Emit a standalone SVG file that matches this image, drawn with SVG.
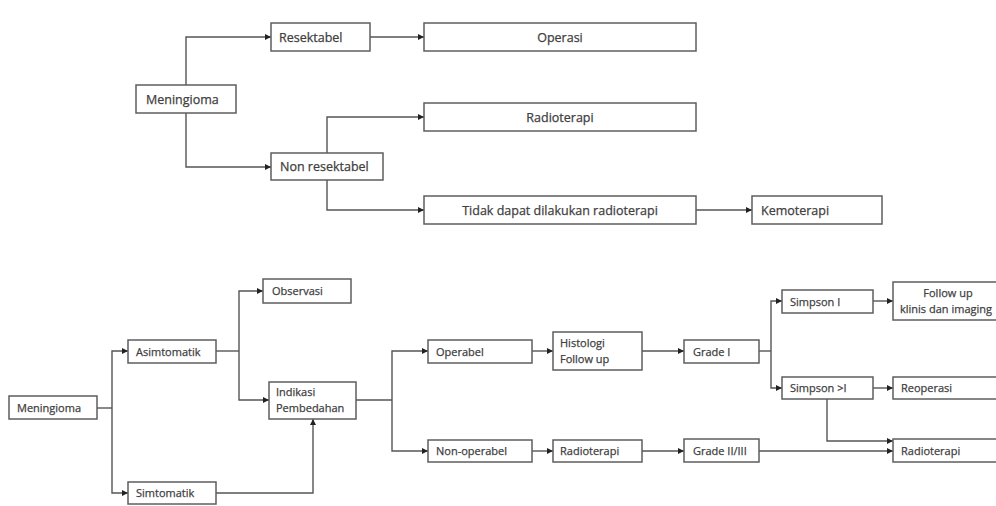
<svg xmlns="http://www.w3.org/2000/svg" width="996" height="506" viewBox="0 0 996 506">
<defs>
<style>
.box{fill:#fff;stroke:#5e5e5e;stroke-width:1.5}
.t{font-family:"Open Sans","Liberation Sans",sans-serif;fill:#404040;stroke:#404040;stroke-width:0.25;font-size:12.5px}
.s{font-family:"Open Sans","Liberation Sans",sans-serif;fill:#404040;stroke:#404040;stroke-width:0.25;font-size:11px}
.c{text-anchor:middle}
.ln{fill:none;stroke:#555;stroke-width:1.4}
</style>
<marker id="ar" viewBox="0 0 10 10" refX="10" refY="5" markerWidth="7" markerHeight="6" markerUnits="userSpaceOnUse" orient="auto">
<path d="M0,0 L10,5 L0,10 z" fill="#222"/>
</marker>
</defs>
<rect width="996" height="506" fill="#fff"/>
<g id="connectors">
<path class="ln" marker-end="url(#ar)" d="M186,85 V37 H271"/>
<path class="ln" marker-end="url(#ar)" d="M186,113 V167 H271"/>
<path class="ln" marker-end="url(#ar)" d="M370,37 H424"/>
<path class="ln" marker-end="url(#ar)" d="M327,153 V117 H424"/>
<path class="ln" marker-end="url(#ar)" d="M327,180 V210 H424"/>
<path class="ln" marker-end="url(#ar)" d="M696,210 H752"/>
<path class="ln" d="M97,408 H112"/>
<path class="ln" marker-end="url(#ar)" d="M112,408 V351 H128"/>
<path class="ln" marker-end="url(#ar)" d="M112,408 V493 H128"/>
<path class="ln" d="M216,351 H239"/>
<path class="ln" marker-end="url(#ar)" d="M239,351 V291 H263"/>
<path class="ln" marker-end="url(#ar)" d="M239,351 V400 H269"/>
<path class="ln" marker-end="url(#ar)" d="M216,493 H313 V419"/>
<path class="ln" d="M356,400 H392"/>
<path class="ln" marker-end="url(#ar)" d="M392,400 V351 H428"/>
<path class="ln" marker-end="url(#ar)" d="M392,400 V451 H428"/>
<path class="ln" marker-end="url(#ar)" d="M532,351 H553"/>
<path class="ln" marker-end="url(#ar)" d="M642,351 H684"/>
<path class="ln" marker-end="url(#ar)" d="M532,451 H553"/>
<path class="ln" marker-end="url(#ar)" d="M642,451 H684"/>
<path class="ln" d="M759,351 H771"/>
<path class="ln" marker-end="url(#ar)" d="M771,351 V301 H782"/>
<path class="ln" marker-end="url(#ar)" d="M771,351 V388 H782"/>
<path class="ln" marker-end="url(#ar)" d="M873,301 H893"/>
<path class="ln" marker-end="url(#ar)" d="M873,388 H893"/>
<path class="ln" marker-end="url(#ar)" d="M827,399 V441 H893"/>
<path class="ln" marker-end="url(#ar)" d="M759,451 H893"/>
</g>
<g id="meningioma1"><rect class="box" x="136" y="85" width="100" height="28"/><text class="t" x="146" y="103.5">Meningioma</text></g>
<g id="resektabel"><rect class="box" x="271" y="23" width="99" height="28"/><text class="t" x="279" y="41.5">Resektabel</text></g>
<g id="operasi"><rect class="box" x="424" y="23" width="272" height="28"/><text class="t c" x="560" y="41.5">Operasi</text></g>
<g id="nonresektabel"><rect class="box" x="271" y="153" width="112" height="27"/><text class="t" x="280" y="171">Non resektabel</text></g>
<g id="radioterapi1"><rect class="box" x="424" y="103" width="272" height="28"/><text class="t c" x="560" y="121.5">Radioterapi</text></g>
<g id="tidakdapat"><rect class="box" x="424" y="196" width="272" height="28"/><text class="t c" x="560" y="214.5">Tidak dapat dilakukan radioterapi</text></g>
<g id="kemoterapi"><rect class="box" x="752" y="196" width="130" height="28"/><text class="t" x="761" y="214.5">Kemoterapi</text></g>
<g id="meningioma2"><rect class="box" x="9" y="396" width="88" height="23"/><text class="s" x="17" y="411.5">Meningioma</text></g>
<g id="asimtomatik"><rect class="box" x="128" y="340" width="88" height="23"/><text class="s" x="136" y="355.5">Asimtomatik</text></g>
<g id="simtomatik"><rect class="box" x="128" y="482" width="88" height="22"/><text class="s" x="136" y="497">Simtomatik</text></g>
<g id="observasi"><rect class="box" x="263" y="279" width="88" height="24"/><text class="s" x="272" y="295">Observasi</text></g>
<g id="indikasi"><rect class="box" x="269" y="382" width="87" height="37"/><text class="s" x="276" y="396">Indikasi</text><text class="s" x="276" y="411.5">Pembedahan</text></g>
<g id="operabel"><rect class="box" x="428" y="340" width="104" height="23"/><text class="s" x="436" y="355.5">Operabel</text></g>
<g id="nonoperabel"><rect class="box" x="428" y="440" width="104" height="22"/><text class="s" x="436" y="455">Non-operabel</text></g>
<g id="histologi"><rect class="box" x="553" y="332" width="89" height="38"/><text class="s" x="560" y="347">Histologi</text><text class="s" x="560" y="362.5">Follow up</text></g>
<g id="radioterapi2"><rect class="box" x="553" y="440" width="89" height="22"/><text class="s" x="560" y="455">Radioterapi</text></g>
<g id="grade1"><rect class="box" x="684" y="340" width="75" height="23"/><text class="s" x="693" y="355.5">Grade I</text></g>
<g id="grade23"><rect class="box" x="684" y="439" width="75" height="23"/><text class="s" x="693" y="454.5">Grade II/III</text></g>
<g id="simpson1"><rect class="box" x="782" y="290" width="91" height="23"/><text class="s" x="790" y="305.5">Simpson I</text></g>
<g id="simpsonlebih"><rect class="box" x="782" y="377" width="91" height="22"/><text class="s" x="790" y="392">Simpson &gt;I</text></g>
<g id="followup"><rect class="box" x="893" y="282" width="115" height="38"/><text class="s c" x="948" y="297">Follow up</text><text class="s c" x="946" y="313">klinis dan imaging</text></g>
<g id="reoperasi"><rect class="box" x="893" y="377" width="115" height="22"/><text class="s" x="901" y="392">Reoperasi</text></g>
<g id="radioterapi3"><rect class="box" x="893" y="439" width="115" height="23"/><text class="s" x="901" y="454.5">Radioterapi</text></g>
</svg>
